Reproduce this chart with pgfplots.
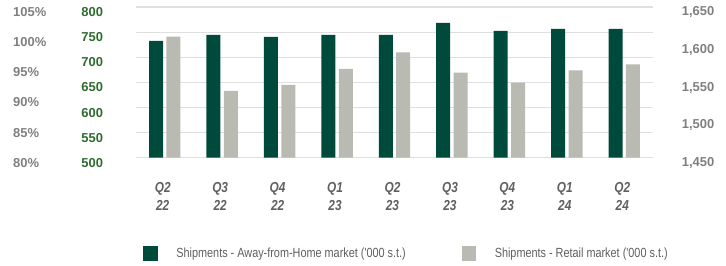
\documentclass[border=0pt]{standalone}
\usepackage{pgfplots}
\pgfplotsset{compat=1.18}
\usepackage{fontspec}
\setmainfont{Liberation Sans}
\newfontfamily\narrow{Liberation Sans}[FakeStretch=0.82]
\definecolor{afh}{HTML}{004A3B}
\definecolor{ret}{HTML}{B9BAB1}
\definecolor{tgreen}{HTML}{2F6B2F}
\definecolor{tgray}{HTML}{7F7F7F}
\definecolor{cgray}{HTML}{5F5F5F}
\definecolor{gridc}{HTML}{DFDFDF}

\begin{document}
\begin{tikzpicture}
\path[use as bounding box] (0,0) rectangle (726bp,266bp);
\pgfplotsset{
 base/.style={
   scale only axis, width=517bp, height=150.4bp,
   at={(136bp,108.3bp)}, anchor=south west,
   xmin=-0.5, xmax=8.5,
   axis line style={draw=none},
   major tick length=0pt,
   tick style={draw=none},
 },
 tickfont/.style={font=\fontsize{13}{15}\selectfont\bfseries},
}
% percent axis (no data)
\begin{axis}[base, ymin=80, ymax=105,
  ytick={80,85,...,105}, yticklabels={80\%,85\%,90\%,95\%,100\%,105\%},
  xtick=\empty,
  yticklabel style={tickfont, anchor=west, inner sep=0pt, xshift=-123bp, yshift=-5bp, text=tgray}]
\end{axis}
% Away-from-Home axis
\begin{axis}[base, ymin=500, ymax=800, ybar,
  ytick={500,550,...,800}, yticklabels={500,550,600,650,700,750,800},
  ymajorgrids, grid style={gridc, line width=1.6bp},
  yticklabel style={tickfont, anchor=east, inner sep=0pt, xshift=-32.7bp, yshift=-5bp, text=tgreen},
  xtick={0,...,8},
  xticklabels={{Q2\\22},{Q3\\22},{Q4\\22},{Q1\\23},{Q2\\23},{Q3\\23},{Q4\\23},{Q1\\24},{Q2\\24}},
  xticklabel style={align=center, anchor=north, inner sep=0pt, yshift=-24.5bp, xshift=-2bp,
    font=\narrow\fontsize{14.5}{18}\selectfont\bfseries\itshape, text=cgray}]
\addplot[ybar, bar width=14bp, bar shift=-8.7bp, fill=afh, draw=none] coordinates {
 (0,733) (1,745) (2,741) (3,745) (4,745) (5,769) (6,753) (7,757) (8,757)};
\end{axis}
% Retail axis
\begin{axis}[base, ymin=1450, ymax=1650, ybar,
  ytick={1450,1500,...,1650}, yticklabels={{1,450},{1,500},{1,550},{1,600},{1,650}},
  yticklabel pos=right,
  yticklabel style={tickfont, anchor=west, inner sep=0pt, xshift=28.7bp, yshift=-5bp, text=tgray},
  xtick=\empty,
  legend columns=2,
  legend image code/.code={\fill[#1] (0bp,-7.2bp) rectangle (14.4bp,7.2bp);},
  legend style={at={(0.0141,-0.636)}, anchor=west, draw=none, fill=none, inner sep=0pt,
    font=\narrow\fontsize{13.3}{15}\selectfont, text=cgray,
    /tikz/every odd column/.append style={column sep=16.5bp},
    /tikz/every even column/.append style={column sep=54bp}}]
\addlegendimage{fill=afh, draw=none}
\addlegendentry{Shipments - Away-from-Home market ('000 s.t.)}
\addplot[ybar, bar width=14bp, bar shift=8.7bp, fill=ret, draw=none] coordinates {
 (0,1611) (1,1539) (2,1547) (3,1568) (4,1590) (5,1563) (6,1550) (7,1566) (8,1574)};
\addlegendentry{Shipments - Retail market ('000 s.t.)}
\end{axis}
\end{tikzpicture}
\end{document}
